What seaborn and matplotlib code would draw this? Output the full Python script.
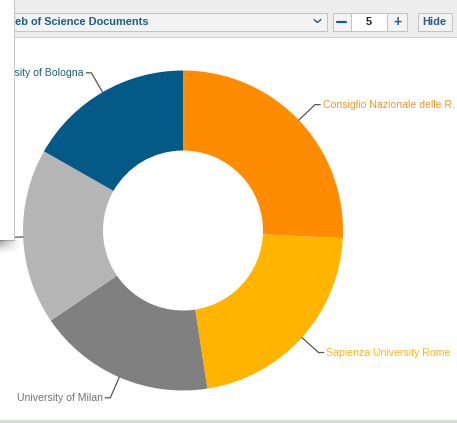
import numpy as np
import pandas as pd
import matplotlib
matplotlib.use("Agg")
import matplotlib.pyplot as plt
from matplotlib.patches import Rectangle
import seaborn as sns

# Data (document counts)
institutions = ['Consiglio Nazionale delle R.', 'Sapienza University Rome',
                'University of Milan', 'University of Padua', 'University of Bologna']
documents = [3120, 2640, 2170, 2150, 2030]
slice_colors = ['#ff8c00', '#ffb400', '#808080', '#b5b5b5', '#045a86']
label_colors = ['#ff9326', '#ffb41e', '#727272', '#9a9a9a', '#1a5c85']
metric_name = 'Web of Science Documents'
top_n = '5'

df = pd.DataFrame({'Institution': institutions, 'Documents': documents})

sns.set_theme(style='white')
plt.rcParams['font.family'] = ['Liberation Sans', 'DejaVu Sans']

W, H = 457, 423
fig = plt.figure(figsize=(W / 100, H / 100), dpi=100)
fig.patch.set_facecolor('white')

# donut
cx, cy, R = 183, 230.5, 160
ax = fig.add_axes([(cx - R) / W, 1 - (cy + R) / H, 2 * R / W, 2 * R / H])
palette = sns.color_palette(slice_colors)
wedges, _ = ax.pie(df['Documents'], colors=palette, startangle=90, counterclock=False,
                   radius=1, wedgeprops=dict(width=0.5, edgecolor='none'))
ax.set_xlim(-1, 1)
ax.set_ylim(-1, 1)
ax.set_aspect('equal')
ax.axis('off')

# labels with connectors
for w, name, col in zip(wedges, df['Institution'], label_colors):
    mid = np.deg2rad((w.theta1 + w.theta2) / 2)
    x0, y0 = np.cos(mid), np.sin(mid)
    ex, ey = 1.14 * x0, 1.14 * y0
    side = 1 if x0 >= 0 else -1
    hx = ex + side * 0.032
    ax.plot([x0, ex, hx], [y0, ey, ey], color='#555555', lw=0.9, clip_on=False,
            solid_joinstyle='round')
    ax.text(hx + side * 0.015, ey, name, color=col, fontsize=7.6,
            ha='left' if side > 0 else 'right', va='center')

# page chrome overlay (pixel coords, y down)
ov = fig.add_axes([0, 0, 1, 1])
ov.set_xlim(0, W)
ov.set_ylim(H, 0)
ov.axis('off')
ov.set_zorder(5)

blue = '#1b5e8c'
ov.add_patch(Rectangle((0, 0), W, 37, fc='#ededed', ec='none'))
ov.plot([0, W], [37.5, 37.5], color='#d2d2d2', lw=0.8)

box_y, box_h = 13.5, 17.5
ov.add_patch(Rectangle((13.5, box_y), 313, box_h, fc='#f3f3f3', ec='#c4c4c4', lw=0.75))
ov.text(5, 22, metric_name, color=blue, fontsize=7.9, fontweight='bold', va='center', ha='left')
ov.plot([314, 317.5, 321], [19.5, 22.5, 19.5], color=blue, lw=1.0)

ov.add_patch(Rectangle((332.5, box_y), 18, box_h, fc='#f3f3f3', ec='#c4c4c4', lw=0.75))
ov.plot([337, 346], [22.5, 22.5], color=blue, lw=1.6)
ov.add_patch(Rectangle((351, box_y), 36, box_h, fc='white', ec='#c4c4c4', lw=0.75))
ov.text(369, 22, top_n, color='#222222', fontsize=7.9, fontweight='bold', va='center', ha='center')
ov.add_patch(Rectangle((387, box_y), 20, box_h, fc='#f3f3f3', ec='#c4c4c4', lw=0.75))
ov.text(397, 22.3, '+', color=blue, fontsize=10, fontweight='bold', va='center', ha='center')
ov.add_patch(Rectangle((417.5, box_y), 34.5, box_h, fc='#f3f3f3', ec='#c4c4c4', lw=0.75))
ov.text(434.75, 22, 'Hide', color='#2b5b84', fontsize=7.9, fontweight='bold', va='center', ha='center')

# side panel partly covering the chart
ov.add_patch(Rectangle((-2, -2), 15.5, 242, fc='white', ec='#c8c8c8', lw=0.75, zorder=10))
u = np.linspace(0, 1, 40)[None, :]
v = np.linspace(0, 1, 30)[:, None]
shadow = np.zeros((30, 40, 4))
shadow[..., :3] = 0.35
shadow[..., 3] = 0.6 * (1 - v) ** 1.5 * (1 - u) ** 1.2
ov.imshow(shadow, extent=(0, 22, 256, 240.5), aspect='auto', interpolation='bilinear', zorder=10)
ov.set_xlim(0, W)
ov.set_ylim(H, 0)

ov.add_patch(Rectangle((0, 420.5), W, 3, fc='#d8dcd8', ec='none'))

fig.savefig('out.png', dpi=100)
